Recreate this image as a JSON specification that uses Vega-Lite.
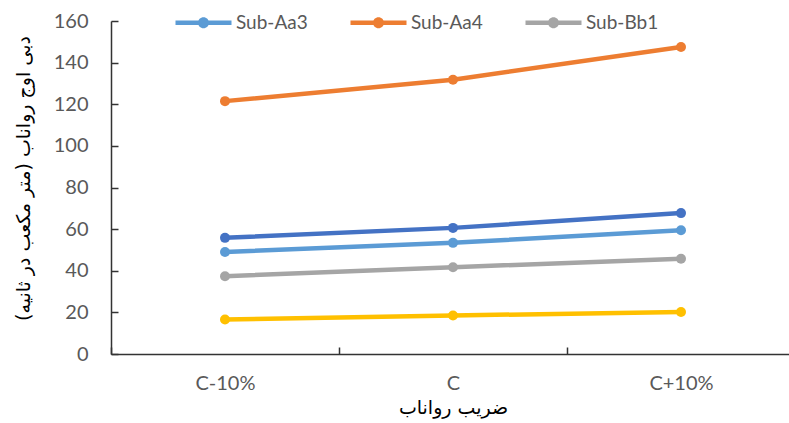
{
  "$schema": "https://vega.github.io/schema/vega-lite/v6.json",
  "autosize": {"type": "none"},
  "padding": {"left": 111, "top": 21, "right": 0, "bottom": 69},
  "width": 684,
  "height": 333,
  "background": "white",
  "data": {
    "values": [
      {"series": "Sub-Aa1", "level": "C-10%", "value": 55.8},
      {"series": "Sub-Aa1", "level": "C", "value": 60.6},
      {"series": "Sub-Aa1", "level": "C+10%", "value": 67.7},
      {"series": "Sub-Aa3", "level": "C-10%", "value": 49.0},
      {"series": "Sub-Aa3", "level": "C", "value": 53.4},
      {"series": "Sub-Aa3", "level": "C+10%", "value": 59.5},
      {"series": "Sub-Aa4", "level": "C-10%", "value": 121.5},
      {"series": "Sub-Aa4", "level": "C", "value": 131.8},
      {"series": "Sub-Aa4", "level": "C+10%", "value": 147.5},
      {"series": "Sub-Bb1", "level": "C-10%", "value": 37.4},
      {"series": "Sub-Bb1", "level": "C", "value": 41.7},
      {"series": "Sub-Bb1", "level": "C+10%", "value": 45.8},
      {"series": "Sub-Bb2", "level": "C-10%", "value": 16.6},
      {"series": "Sub-Bb2", "level": "C", "value": 18.5},
      {"series": "Sub-Bb2", "level": "C+10%", "value": 20.2}
    ]
  },
  "config": {
    "view": {"stroke": null},
    "axis": {
      "labelFont": "Lato",
      "labelFontSize": 20,
      "labelColor": "#595959",
      "domainColor": "#333333",
      "domainWidth": 1.5,
      "tickColor": "#333333",
      "tickWidth": 1.5,
      "titleFont": "DejaVu Sans",
      "titleFontWeight": "normal",
      "titleColor": "#000000",
      "titleFontSize": 19
    }
  },
  "mark": {
    "type": "line",
    "strokeWidth": 4.5,
    "point": {"filled": true, "size": 100, "opacity": 1}
  },
  "encoding": {
    "x": {
      "field": "level",
      "type": "nominal",
      "sort": ["C-10%", "C", "C+10%"],
      "scale": {"type": "band", "paddingInner": 0, "paddingOuter": 0},
      "axis": {
        "title": "ضریب رواناب",
        "labelAngle": 0,
        "tickBand": "extent",
        "tickSize": -7,
        "labelPadding": 26,
        "titlePadding": 5
      }
    },
    "y": {
      "field": "value",
      "type": "quantitative",
      "scale": {"domain": [0, 160], "nice": false},
      "axis": {
        "title": "دبی اوج رواناب (متر مکعب در ثانیه)",
        "values": [0, 20, 40, 60, 80, 100, 120, 140, 160],
        "grid": false,
        "tickSize": -7,
        "labelPadding": 30,
        "titlePadding": 20,
        "titleY": 157
      }
    },
    "color": {
      "field": "series",
      "type": "nominal",
      "scale": {
        "domain": ["Sub-Aa1", "Sub-Aa3", "Sub-Aa4", "Sub-Bb1", "Sub-Bb2"],
        "range": ["#4472C4", "#5B9BD5", "#ED7D31", "#A5A5A5", "#FFC000"]
      },
      "legend": {
        "values": ["Sub-Aa3", "Sub-Aa4", "Sub-Bb1"],
        "title": null,
        "orient": "none",
        "direction": "horizontal",
        "legendX": 83,
        "legendY": -8,
        "padding": 0,
        "symbolType": "M -5.6 -0.44 L 5.6 -0.44 L 5.6 0.44 L -5.6 0.44 Z M -1.1 0 A 1.1 1.1 0 1 1 1.1 0 A 1.1 1.1 0 1 1 -1.1 0 Z",
        "symbolSize": 100,
        "symbolStrokeWidth": 0,
        "labelOffset": 23,
        "columnPadding": 42,
        "labelFont": "Lato",
        "labelFontSize": 19,
        "labelColor": "#595959",
        "encode": {
          "symbols": {
            "update": {
              "fill": {"scale": "color", "field": "value"},
              "strokeWidth": {"value": 0},
              "opacity": {"value": 1}
            }
          }
        }
      }
    }
  }
}
